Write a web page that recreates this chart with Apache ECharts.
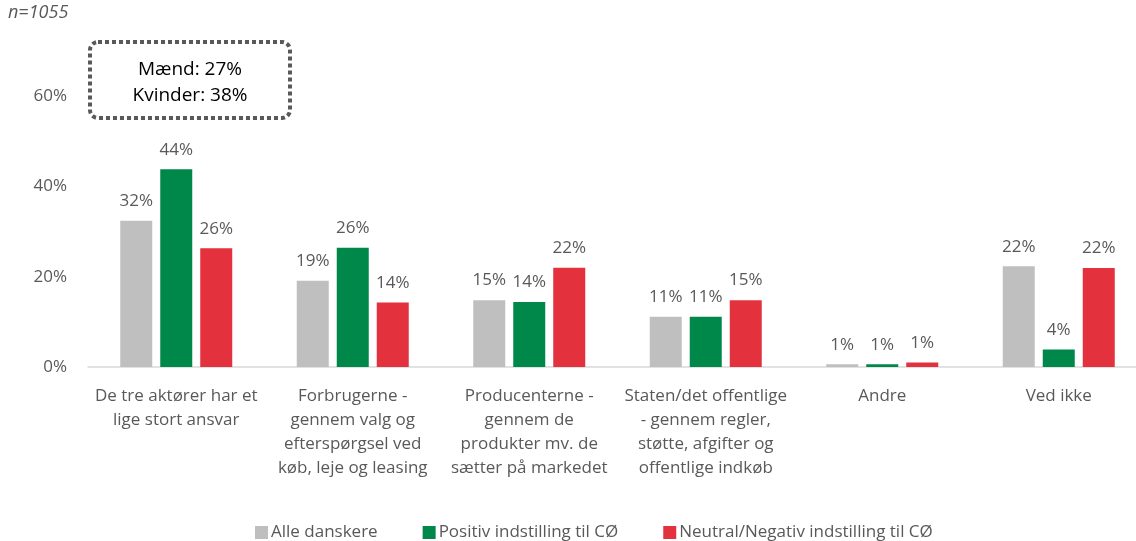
<!DOCTYPE html>
<html>
<head>
<meta charset="utf-8">
<script src="https://cdn.jsdelivr.net/npm/echarts@6/dist/echarts.min.js"></script>
<style>
  html, body { margin: 0; padding: 0; background: #fff; }
  #chart { width: 1136px; height: 541px; }
</style>
</head>
<body>
<div id="chart"></div>
<script>
// kategorier (manuelt ombrudt som i originalen)
var categories = [
  'De tre aktører har et\nlige stort ansvar',
  'Forbrugerne -\ngennem valg og\nefterspørgsel ved\nkøb, leje og leasing',
  'Producenterne -\ngennem de\nprodukter mv. de\nsætter på markedet',
  'Staten/det offentlige\n- gennem regler,\nstøtte, afgifter og\noffentlige indkøb',
  'Andre',
  'Ved ikke'
];
var seriesNames = ['Alle danskere', 'Positiv indstilling til CØ', 'Neutral/Negativ indstilling til CØ'];
var alle = [32.4, 19.1, 14.8, 11.1, 0.6, 22.3];
var positiv = [43.8, 26.4, 14.4, 11.1, 0.6, 3.9];
var neutral = [26.3, 14.3, 22.0, 14.8, 1.0, 21.9];
var yTicks = [0, 20, 40, 60];

var colors = ['#bfbfbf', '#00874a', '#e3313e'];
var txt = '#595959';
var font = 'Open Sans';

var chart = echarts.init(document.getElementById('chart'));

function bar(name, data, color) {
  return {
    name: name,
    type: 'bar',
    data: data,
    barWidth: 32,
    barGap: '25%',
    itemStyle: { color: color },
    label: {
      show: true,
      position: 'top',
      distance: 11,
      color: txt,
      fontSize: 17,
      fontFamily: font,
      formatter: function (p) { return Math.round(p.value) + '%'; }
    }
  };
}

chart.setOption({
  animation: false,
  textStyle: { fontFamily: font },
  // plotområdet går lidt ud over højre kant, som i originalen
  grid: { left: 88, right: -11, top: 96, bottom: 174, outerBoundsMode: 'none' },
  legend: {
    top: 519,
    left: 250,
    itemWidth: 13,
    itemHeight: 13,
    itemGap: 45,
    icon: 'rect',
    textStyle: { color: txt, fontSize: 17, fontFamily: font, padding: [0, 0, 0, -2] },
    data: seriesNames
  },
  xAxis: {
    type: 'category',
    data: categories,
    axisLine: { lineStyle: { color: '#d9d9d9', width: 1.5 } },
    axisTick: { show: false },
    axisLabel: {
      color: txt,
      fontSize: 17,
      fontFamily: font,
      lineHeight: 24,
      margin: 17,
      interval: 0
    }
  },
  yAxis: {
    type: 'value',
    min: yTicks[0],
    max: yTicks[yTicks.length - 1],
    interval: 20,
    splitLine: { show: false },
    axisLine: { show: false },
    axisTick: { show: false },
    axisLabel: {
      color: txt,
      fontSize: 17,
      fontFamily: font,
      margin: 21,
      formatter: '{value}%'
    }
  },
  series: [
    bar(seriesNames[0], alle, colors[0]),
    bar(seriesNames[1], positiv, colors[1]),
    bar(seriesNames[2], neutral, colors[2])
  ],
  graphic: [
    {
      type: 'text',
      left: 8,
      top: 4,
      style: { text: 'n=1055', fill: txt, fontSize: 18, fontStyle: 'italic', fontFamily: font }
    },
    {
      type: 'rect',
      shape: { x: 90, y: 42, width: 200, height: 76, r: 8 },
      style: { fill: 'none', stroke: '#595959', lineWidth: 4, lineDash: [4, 3] }
    },
    {
      type: 'text',
      x: 190,
      y: 83,
      style: {
        text: 'Mænd: 27%\nKvinder: 38%',
        fill: '#000',
        fontSize: 19,
        fontFamily: font,
        lineHeight: 26,
        align: 'center',
        verticalAlign: 'middle'
      }
    }
  ]
});
</script>
</body>
</html>
